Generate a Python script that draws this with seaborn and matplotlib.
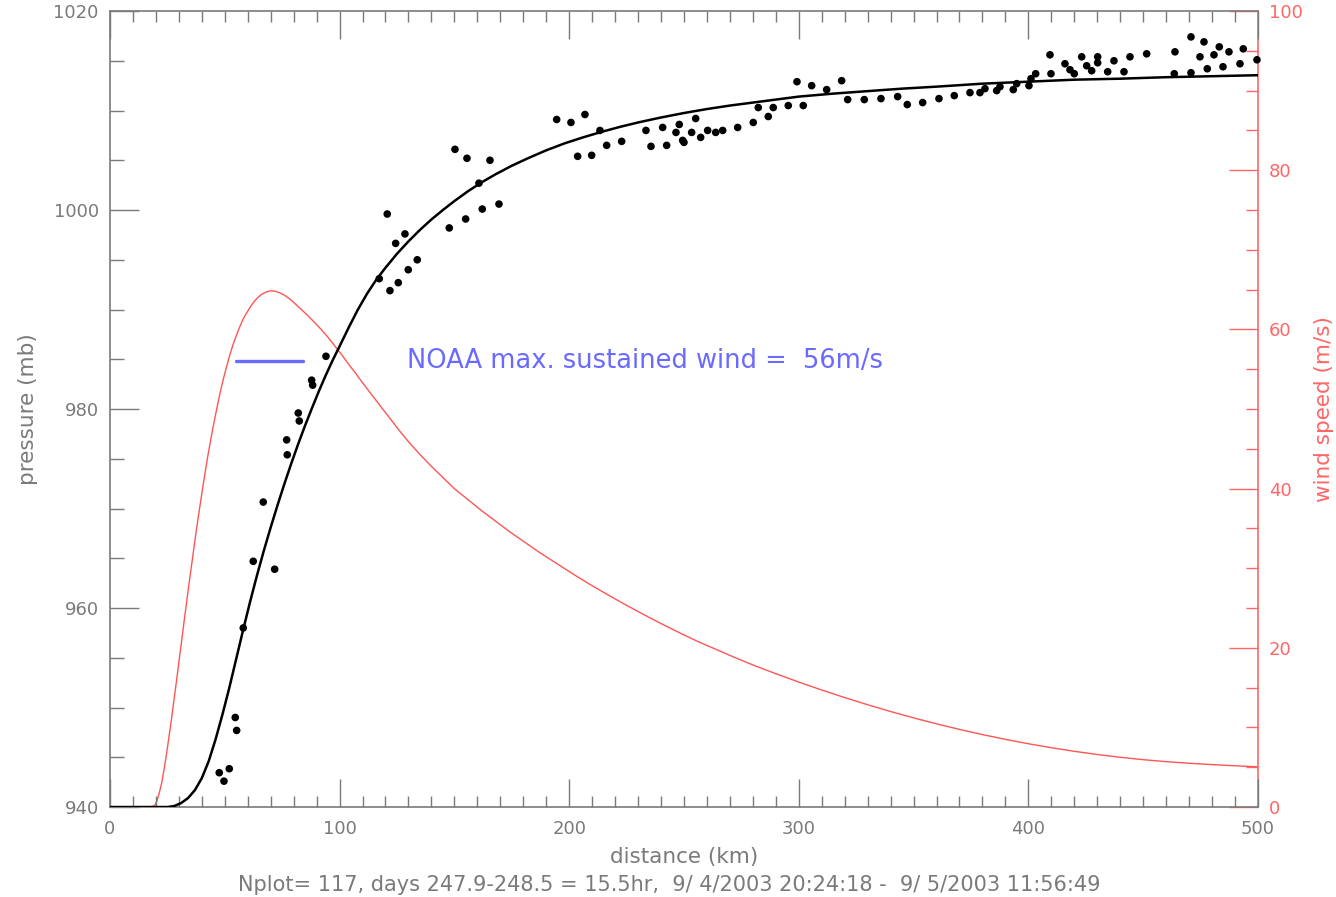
import numpy as np
import pandas as pd
import matplotlib
matplotlib.use("Agg")
import matplotlib.pyplot as plt
import seaborn as sns
from matplotlib.ticker import MultipleLocator

# ---------------- data ----------------
obs_km = [47.6, 49.65, 51.96, 54.57, 55.18, 58.06, 62.41, 66.77, 71.73, 76.96,
          77.22, 82.01, 82.45, 87.85, 88.28, 94.08, 117.29, 120.77, 121.95, 124.43,
          125.57, 128.48, 129.92, 133.84, 147.78, 150.26, 154.92, 155.49, 160.71, 162.15,
          165.51, 169.43, 194.56, 200.78, 203.7, 206.88, 209.8, 213.41, 216.33, 222.86,
          233.45, 235.63, 240.72, 242.46, 246.52, 247.95, 249.43, 250.0, 253.35, 255.1,
          257.27, 260.32, 263.81, 266.86, 273.39, 280.18, 282.36, 286.72, 288.89, 295.43,
          299.22, 301.96, 305.62, 312.15, 318.68, 321.3, 328.53, 335.8, 343.07, 347.26,
          353.96, 361.06, 367.73, 374.56, 378.92, 381.1, 386.19, 387.63, 393.42, 394.9,
          400.26, 401.13, 403.18, 409.41, 409.84, 415.94, 418.12, 419.99, 423.22, 425.39,
          427.57, 430.18, 430.18, 434.54, 437.28, 441.64, 444.25, 451.52, 463.85, 463.54,
          470.82, 470.82, 476.48, 474.74, 480.84, 483.14, 477.92, 487.37, 484.76, 493.6,
          492.16, 499.56]
obs_mb = [943.45, 942.6, 943.85, 949.0, 947.7, 958.0, 964.7, 970.65, 963.9, 976.9,
          975.4, 979.6, 978.8, 982.9, 982.4, 985.3, 993.1, 999.6, 991.9, 996.65,
          992.7, 997.6, 994.0, 995.0, 998.2, 1006.1, 999.1, 1005.2, 1002.7, 1000.1,
          1005.0, 1000.6, 1009.1, 1008.8, 1005.4, 1009.6, 1005.5, 1008.0, 1006.5, 1006.9,
          1008.0, 1006.4, 1008.3, 1006.5, 1007.8, 1008.6, 1007.0, 1006.8, 1007.8, 1009.2,
          1007.3, 1008.0, 1007.8, 1008.0, 1008.3, 1008.8, 1010.3, 1009.4, 1010.3, 1010.5,
          1012.9, 1010.5, 1012.5, 1012.1, 1013.0, 1011.1, 1011.1, 1011.2, 1011.4, 1010.6,
          1010.8, 1011.2, 1011.5, 1011.8, 1011.8, 1012.2, 1012.0, 1012.4, 1012.1, 1012.7,
          1012.5, 1013.2, 1013.7, 1015.6, 1013.7, 1014.7, 1014.1, 1013.7, 1015.4, 1014.5,
          1014.0, 1015.4, 1014.8, 1013.9, 1015.0, 1013.9, 1015.4, 1015.7, 1015.9, 1013.7,
          1017.4, 1013.8, 1016.9, 1015.4, 1015.6, 1016.4, 1014.2, 1015.9, 1014.4, 1016.2,
          1014.7, 1015.1]

fit_km = [0, 25, 28, 31, 34, 37, 40, 43, 46, 49, 52, 55, 58, 61, 64, 67, 70, 73, 76,
          79, 82, 85, 88, 91, 94, 97, 100, 104, 108, 112, 116, 120, 125, 130, 135, 140,
          145, 150, 156, 162, 168, 175, 182, 190, 198, 206, 214, 222, 230, 240, 250,
          260, 270, 280, 290, 300, 315, 330, 345, 360, 380, 400, 420, 440, 460, 480, 500]
fit_mb = [940.0, 940.0, 940.1, 940.4, 940.9, 941.7, 942.9, 944.6, 946.8, 949.3,
          952.0, 954.9, 957.8, 960.6, 963.25, 965.75, 968.1, 970.35, 972.5, 974.55,
          976.5, 978.35, 980.1, 981.8, 983.4, 984.9, 986.3, 988.2, 990.0, 991.6,
          993.0, 994.2, 995.6, 996.85, 998.0, 999.05, 1000.0, 1000.9, 1001.9, 1002.8,
          1003.6, 1004.45, 1005.2, 1006.0, 1006.7, 1007.3, 1007.85, 1008.35, 1008.8,
          1009.3, 1009.75, 1010.15, 1010.5, 1010.8, 1011.1, 1011.4, 1011.7, 1011.95,
          1012.2, 1012.4, 1012.7, 1012.9, 1013.1, 1013.2, 1013.35, 1013.45, 1013.55]

wind_km = [0, 18, 19.5, 20.5, 21.5, 22.5, 23.5, 24.5, 25.5, 26.5, 27.5, 28.5, 29.5,
           30.5, 31.5, 32.5, 33.5, 34.5, 35.5, 36.5, 37.5, 38.5, 39.5, 40.5, 41.5,
           42.5, 43.5, 44.5, 45.5, 46.5, 47.5, 48.5, 49.5, 50.5, 52, 53.5, 55, 56.5,
           58, 60, 62, 64, 66, 68, 70, 72, 74, 76, 78, 80, 83, 86, 89, 92, 95, 98,
           101, 104, 107, 110, 114, 118, 122, 126, 130, 135, 140, 145, 150, 156, 162,
           168, 174, 180, 187, 194, 201, 208, 216, 224, 232, 240, 248, 256, 264, 272,
           280, 290, 300, 310, 320, 330, 340, 350, 360, 370, 380, 390, 400, 410, 420,
           430, 440, 450, 460, 470, 480, 490, 500]
wind_ms = [0, 0, 0.2, 0.8, 1.8, 3.0, 4.6, 6.4, 8.4, 10.4, 12.6, 14.8, 17.0, 19.3,
           21.5, 23.8, 26.0, 28.2, 30.3, 32.4, 34.5, 36.5, 38.4, 40.3, 42.1, 43.9,
           45.5, 47.1, 48.6, 50.0, 51.4, 52.7, 53.9, 55.0, 56.6, 58.0, 59.2, 60.3,
           61.3, 62.3, 63.2, 63.9, 64.4, 64.7, 64.85, 64.8, 64.6, 64.3, 63.9, 63.4,
           62.6, 61.8, 60.9, 60.0, 59.0, 57.9, 56.8, 55.6, 54.5, 53.3, 51.8, 50.3,
           48.8, 47.3, 45.9, 44.3, 42.8, 41.4, 40.0, 38.6, 37.2, 35.9, 34.6, 33.4,
           32.0, 30.7, 29.4, 28.15, 26.8, 25.5, 24.25, 23.05, 21.9, 20.8, 19.8, 18.8,
           17.85, 16.75, 15.7, 14.7, 13.75, 12.85, 12.0, 11.2, 10.45, 9.75, 9.1, 8.5,
           7.95, 7.45, 7.0, 6.6, 6.25, 5.95, 5.7, 5.5, 5.33, 5.18, 5.05]

noaa_km = [55, 84]
noaa_ms = [56, 56]
noaa_label = "NOAA max. sustained wind =  56m/s"

x_label = "distance (km)"
y_label = "pressure (mb)"
y2_label = "wind speed (m/s)"
footer = "Nplot= 117, days 247.9-248.5 = 15.5hr,  9/ 4/2003 20:24:18 -  9/ 5/2003 11:56:49"

# ---------------- styling ----------------
sns.set_theme(style="white")
plt.rcParams['font.family'] = ['DejaVu Sans']

GRAY = "#7a7a7a"
RED = "#ff6666"
REDLINE = "#ff5555"
BLUE = "#6a6aff"

fig = plt.figure(figsize=(13.36, 8.97), dpi=100)
ax = fig.add_axes([0.0823, 0.1003, 0.8593, 0.8874])
ax2 = ax.twinx()

obs = pd.DataFrame({"km": obs_km, "mb": obs_mb})
fit = pd.DataFrame({"km": fit_km, "mb": fit_mb})
wind = pd.DataFrame({"km": wind_km, "ms": wind_ms})
noaa = pd.DataFrame({"km": noaa_km, "ms": noaa_ms})

sns.lineplot(data=wind, x="km", y="ms", ax=ax2, color=REDLINE, lw=1.0,
             estimator=None, zorder=2)
sns.lineplot(data=noaa, x="km", y="ms", ax=ax2, color=BLUE, lw=2.4,
             estimator=None, zorder=2)
ax2.text(129.5, 56, noaa_label, color=BLUE, fontsize=18.5, va="center", ha="left")

sns.lineplot(data=fit, x="km", y="mb", ax=ax, color="black", lw=1.8,
             estimator=None, zorder=3)
sns.scatterplot(data=obs, x="km", y="mb", ax=ax, color="black", s=30,
                edgecolor="none", zorder=4, clip_on=False)

ax.set_zorder(ax2.get_zorder() + 1)
ax.patch.set_visible(False)

ax.set_xlim(0, 500)
ax.set_ylim(940, 1020)
ax2.set_ylim(0, 100)

ax.xaxis.set_major_locator(MultipleLocator(100))
ax.xaxis.set_minor_locator(MultipleLocator(10))
ax.yaxis.set_major_locator(MultipleLocator(20))
ax.yaxis.set_minor_locator(MultipleLocator(5))
ax2.yaxis.set_major_locator(MultipleLocator(20))
ax2.yaxis.set_minor_locator(MultipleLocator(5))

ax.tick_params(axis="x", which="both", direction="in", top=True, bottom=True,
               colors=GRAY, labelsize=13, pad=9, width=1)
ax.tick_params(axis="x", which="major", length=20)
ax.tick_params(axis="x", which="minor", length=8)
ax.tick_params(axis="y", which="both", direction="in", left=True, right=False,
               colors=GRAY, labelsize=13, pad=8, width=1)
ax.tick_params(axis="y", which="major", length=21)
ax.tick_params(axis="y", which="minor", length=10)
ax2.tick_params(axis="y", which="both", direction="in", right=True, left=False,
                colors=RED, labelsize=13, pad=8, width=1)
ax2.tick_params(axis="y", which="major", length=21)
ax2.tick_params(axis="y", which="minor", length=9)

for name in ["left", "bottom", "top"]:
    ax.spines[name].set_color(GRAY)
    ax.spines[name].set_linewidth(1.2)
ax.spines["right"].set_visible(False)
for name in ["left", "bottom", "top"]:
    ax2.spines[name].set_visible(False)
ax2.spines["right"].set_color(RED)
ax2.spines["right"].set_linewidth(1.2)

ax.set_xlabel(x_label, color=GRAY, fontsize=15.5)
ax.xaxis.set_label_coords(0.5, -0.0628)
ax.xaxis.label.set_va("center")
ax.set_ylabel(y_label, color=GRAY, fontsize=15.5)
ax.yaxis.set_label_coords(-0.0625, 0.5)
ax2.set_ylabel(y2_label, color=RED, fontsize=15.5)
ax2.yaxis.set_label_coords(1.0488, 0.5)

fig.text(0.501, 1 - 885 / 897, footer, color=GRAY, fontsize=15,
         ha="center", va="center")

fig.savefig("out.png", dpi=100)
